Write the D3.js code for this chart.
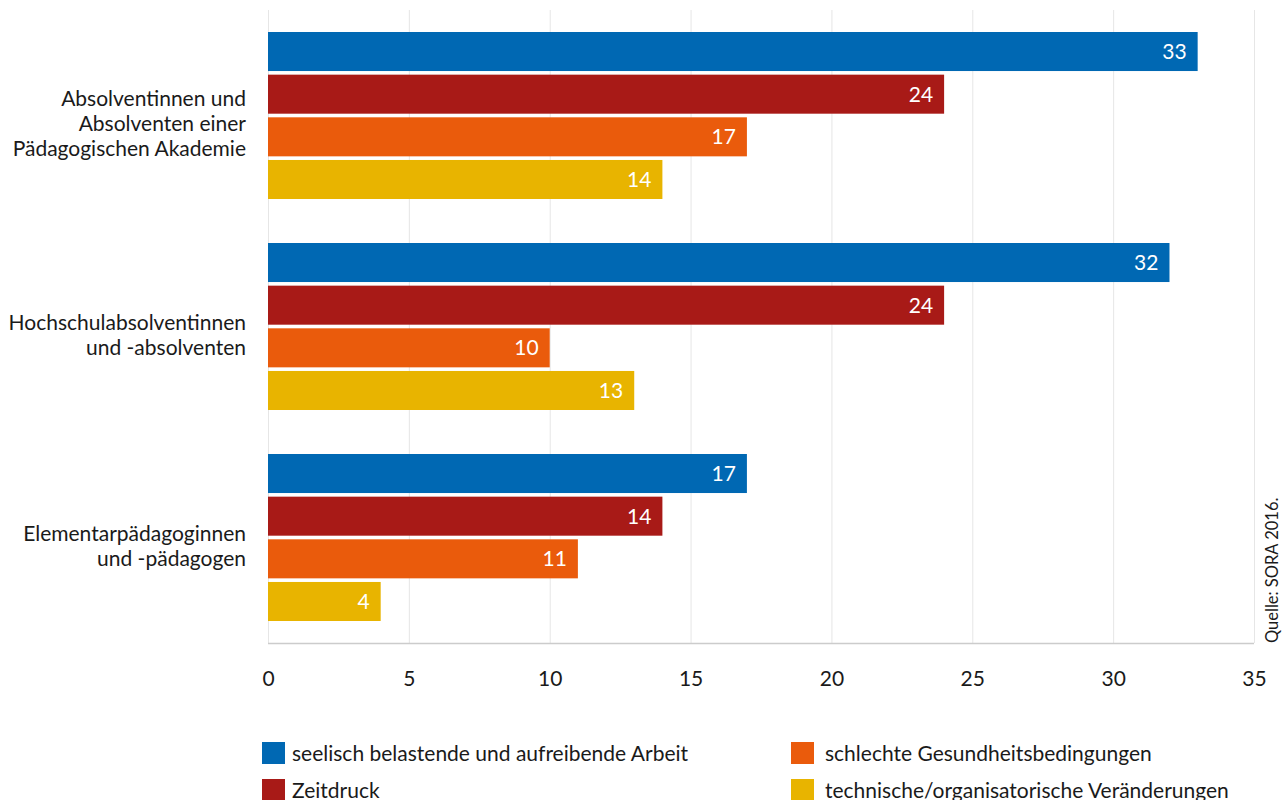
<!DOCTYPE html>
<html>
<head>
<meta charset="utf-8">
<script src="https://cdn.jsdelivr.net/npm/d3@7/dist/d3.min.js"></script>
<style>
  html, body { margin: 0; padding: 0; background: #fff; }
  svg { display: block; font-family: Lato, "Open Sans", sans-serif; }
</style>
</head>
<body>
<svg id="chart" width="1282" height="800"></svg>
<script>
// Categories (each with its label split into lines)
const categories = [
  "Absolventinnen und Absolventen einer Pädagogischen Akademie",
  "Hochschulabsolventinnen und -absolventen",
  "Elementarpädagoginnen und -pädagogen"
];
const categoryLines = [
  ["Absolventinnen und", "Absolventen einer", "Pädagogischen Akademie"],
  ["Hochschulabsolventinnen", "und -absolventen"],
  ["Elementarpädagoginnen", "und -pädagogen"]
];

// Series
const seriesNames = [
  "seelisch belastende und aufreibende Arbeit",
  "Zeitdruck",
  "schlechte Gesundheitsbedingungen",
  "technische/organisatorische Veränderungen"
];
const seriesColors = ["#0068b3", "#a81a17", "#ea5b0c", "#e8b400"];

// Values per series, in category order
const seelischValues = [33, 32, 17];
const zeitdruckValues = [24, 24, 14];
const gesundheitValues = [17, 10, 11];
const technischValues = [14, 13, 4];

const xTicks = [0, 5, 10, 15, 20, 25, 30, 35];
const sourceNote = "Quelle: SORA 2016.";

const seriesValues = [seelischValues, zeitdruckValues, gesundheitValues, technischValues];

const svg = d3.select("#chart");

const plot = { left: 268, right: 1254, top: 10, bottom: 643 };
const fontSize = 21;

const x = d3.scaleLinear().domain([0, 35]).range([plot.left, plot.right]);
const yGroup = d3.scaleBand().domain(categories).range([plot.top, plot.bottom]).padding(0);
const ySeries = d3.scaleBand().domain(seriesNames).range([22, 189]).paddingInner(0.085);

// Vertical gridlines
svg.append("g")
  .selectAll("line")
  .data(xTicks)
  .join("line")
  .attr("x1", d => x(d) + 0.5)
  .attr("x2", d => x(d) + 0.5)
  .attr("y1", plot.top)
  .attr("y2", plot.bottom)
  .attr("stroke", "#e6e6e6")
  .attr("stroke-width", 1);

// Bars with value labels
const groups = svg.append("g")
  .selectAll("g")
  .data(categories)
  .join("g")
  .attr("transform", d => `translate(0,${yGroup(d)})`);

groups.each(function(cat, ci) {
  const g = d3.select(this);
  seriesNames.forEach((s, si) => {
    const v = seriesValues[si][ci];
    g.append("rect")
      .attr("x", x(0))
      .attr("y", ySeries(s))
      .attr("width", x(v) - x(0))
      .attr("height", ySeries.bandwidth())
      .attr("fill", seriesColors[si]);
    g.append("text")
      .attr("x", x(v) - 11)
      .attr("y", ySeries(s) + ySeries.bandwidth() / 2)
      .attr("dy", "0.36em")
      .attr("text-anchor", "end")
      .attr("fill", "#fff")
      .attr("font-size", fontSize)
      .text(v);
  });
});

// Axis baseline
svg.append("line")
  .attr("x1", plot.left)
  .attr("x2", plot.right)
  .attr("y1", plot.bottom + 0.5)
  .attr("y2", plot.bottom + 0.5)
  .attr("stroke", "#cccccc")
  .attr("stroke-width", 1.5);

// X axis tick labels
const xAxis = d3.axisBottom(x).tickValues(xTicks).tickSize(0).tickPadding(0);
const ax = svg.append("g")
  .attr("transform", `translate(0,${plot.bottom})`)
  .call(xAxis);
ax.select(".domain").remove();
ax.selectAll("text")
  .attr("y", 35)
  .attr("dy", "0.36em")
  .attr("font-family", "Lato, sans-serif")
  .attr("font-size", fontSize)
  .attr("fill", "#1a1a1a");

// Category labels
const lineH = 25;
svg.append("g")
  .selectAll("text")
  .data(categories)
  .join("text")
  .attr("text-anchor", "end")
  .attr("font-size", fontSize)
  .attr("fill", "#1a1a1a")
  .each(function(d, i) {
    const lines = categoryLines[i];
    const cy = yGroup(d) + yGroup.bandwidth() / 2 + 8;
    const startY = cy - (lines.length - 1) * lineH / 2;
    d3.select(this).selectAll("tspan")
      .data(lines)
      .join("tspan")
      .attr("x", 246)
      .attr("y", (l, j) => startY + j * lineH)
      .attr("dy", "0.36em")
      .text(l => l);
  });

// Legend
const legendPos = [
  { x: 262, y: 742, tx: 30 },
  { x: 262, y: 779, tx: 30 },
  { x: 791, y: 742, tx: 34 },
  { x: 791, y: 779, tx: 34 }
];
const legend = svg.append("g")
  .selectAll("g")
  .data(seriesNames)
  .join("g")
  .attr("transform", (d, i) => `translate(${legendPos[i].x},${legendPos[i].y})`);
legend.append("rect")
  .attr("width", 23)
  .attr("height", 22)
  .attr("fill", (d, i) => seriesColors[i]);
legend.append("text")
  .attr("x", (d, i) => legendPos[i].tx)
  .attr("y", 11)
  .attr("dy", "0.36em")
  .attr("font-size", fontSize)
  .attr("fill", "#1a1a1a")
  .text(d => d);

// Source note
svg.append("text")
  .attr("transform", `translate(1278,${plot.bottom}) rotate(-90)`)
  .attr("text-anchor", "start")
  .attr("font-family", "Lato, sans-serif")
  .attr("font-size", 16.5)
  .attr("fill", "#1a1a1a")
  .text(sourceNote);
</script>
</body>
</html>
